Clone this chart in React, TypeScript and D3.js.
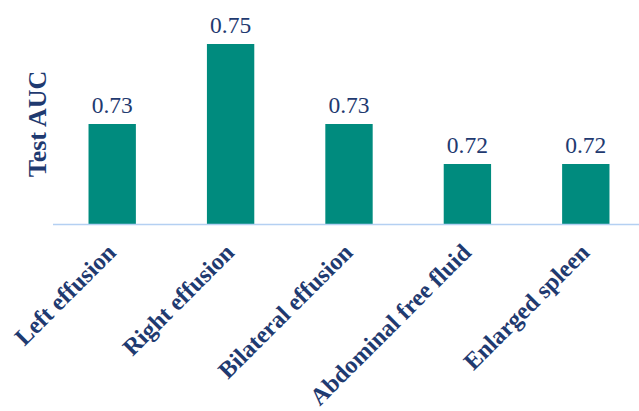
import React from "react";
import * as d3 from "d3";

const categories = ["Left effusion", "Right effusion", "Bilateral effusion", "Abdominal free fluid", "Enlarged spleen"];
const values = [0.73, 0.75, 0.73, 0.72, 0.72];
const valueLabels = ["0.73", "0.75", "0.73", "0.72", "0.72"];

const W = 639;
const H = 411;

export default function App() {
  const x = d3.scaleBand<string>().domain(categories).range([53, 645]).paddingInner(0.6).paddingOuter(0.3);
  const y = d3.scaleLinear().domain([0.705, 0.755]).range([224, 24]);
  const navy = "#1F3A70";
  const teal = "#008B7E";
  const serif = "'Liberation Serif', 'Times New Roman', serif";
  return (
    <svg width={W} height={H} style={{ position: "absolute", left: 0, top: 0, background: "#fff" }}>
      {categories.map((c, i) => (
        <rect key={c} x={x(c)} y={y(values[i])} width={x.bandwidth()} height={y(0.705) - y(values[i])} fill={teal} />
      ))}
      <line x1={53} x2={W} y1={224.5} y2={224.5} stroke="#B4D0F2" strokeWidth={1.5} />
      {categories.map((c, i) => (
        <text key={c + "v"} x={(x(c) as number) + x.bandwidth() / 2} y={y(values[i]) - 11} textAnchor="middle"
          fontFamily={serif} fontSize={23.5} fill={navy}>{valueLabels[i]}</text>
      ))}
      {categories.map((c) => {
        const cx = (x(c) as number) + x.bandwidth() / 2 + 5;
        const cy = 254;
        return (
          <text key={c + "l"} transform={`translate(${cx},${cy}) rotate(-45)`} textAnchor="end"
            fontFamily={serif} fontSize={24.2} fontWeight="bold" fill={navy}>{c}</text>
        );
      })}
      <text transform="translate(46,124) rotate(-90)" textAnchor="middle" fontFamily={serif} fontSize={26}
        fontWeight="bold" fill={navy}>Test AUC</text>
    </svg>
  );
}
